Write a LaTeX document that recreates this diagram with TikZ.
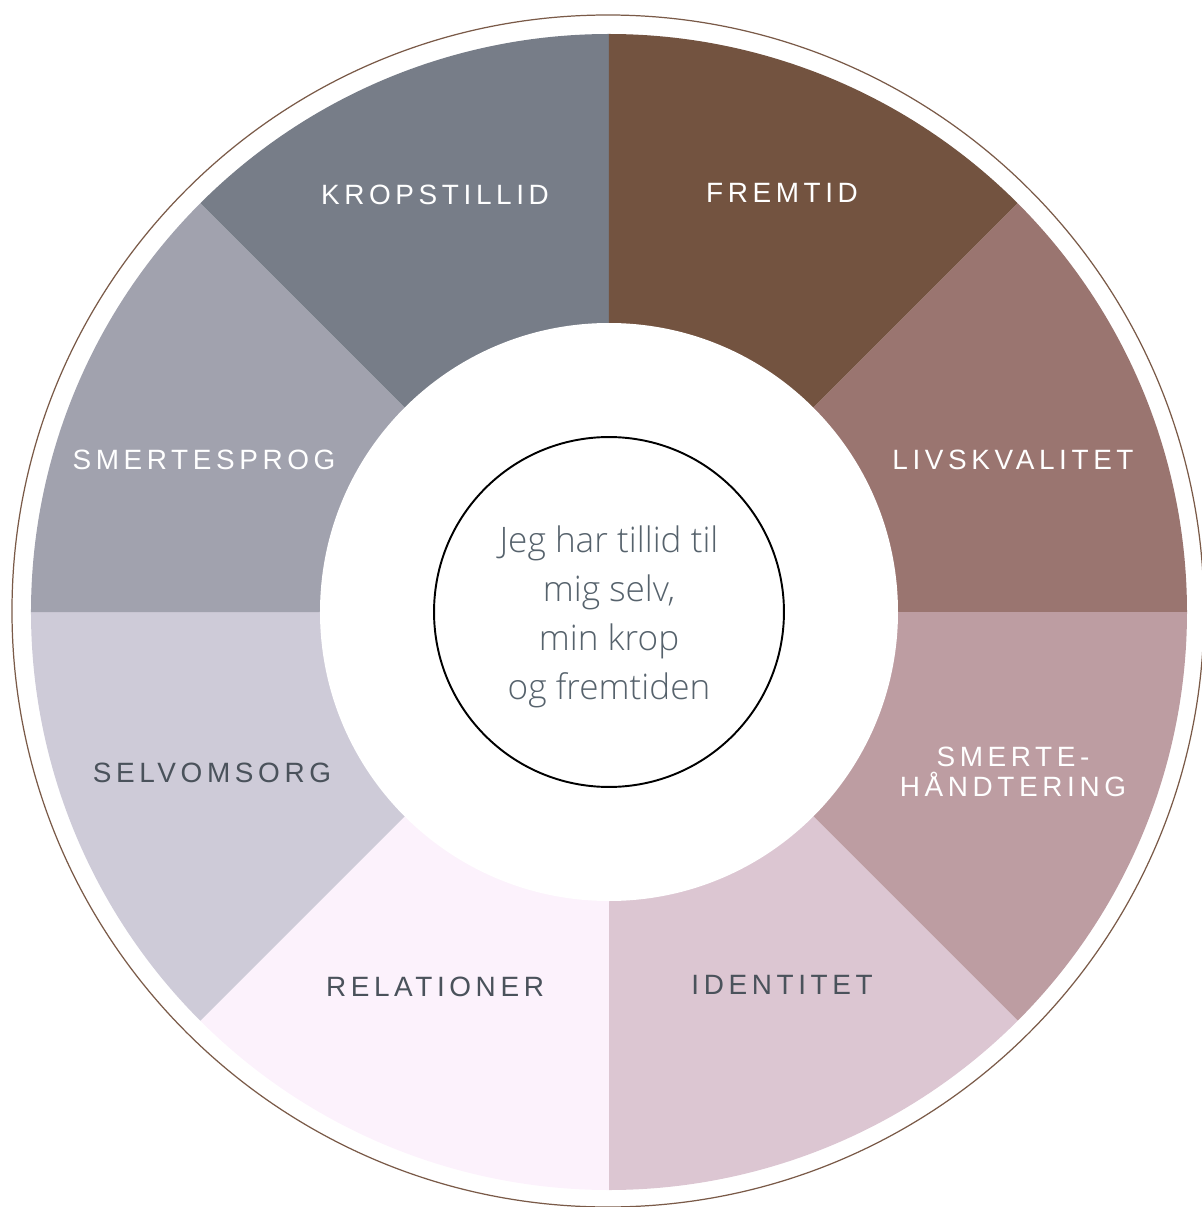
\documentclass[tikz,border=0pt]{standalone}
\usepackage{fontspec}
\usepackage{xcolor}
\newfontfamily\labelfont[LetterSpace=16.5]{Liberation Sans}
\newfontfamily\corefont{Open Sans Light}

\definecolor{kropc}{HTML}{777D88}
\definecolor{fremc}{HTML}{735340}
\definecolor{livc}{HTML}{9A7570}
\definecolor{smhc}{HTML}{BD9DA2}
\definecolor{idc}{HTML}{DCC6D2}
\definecolor{relc}{HTML}{FCF2FC}
\definecolor{selvc}{HTML}{CECBD8}
\definecolor{smsc}{HTML}{A1A2AE}
\definecolor{ringc}{HTML}{7A5A48}
\definecolor{labelgray}{HTML}{4A525B}
\definecolor{coregray}{HTML}{56626C}

\begin{document}
\begin{tikzpicture}[x=0.02cm,y=0.02cm,
    seg label/.style={font=\labelfont\fontsize{15.9pt}{17pt}\selectfont,align=center,inner sep=0pt},
    light label/.style={seg label,text=white},
    dark label/.style={seg label,text=labelgray},
    core/.style={circle,draw=black,line width=1.1pt,fill=white,minimum size=7cm},
    core text/.style={align=center,text=coregray,font=\corefont\fontsize{20pt}{27.9pt}\selectfont}]
    \useasboundingbox (-609,-595) rectangle (593,612);
    \coordinate (c) at (0,0);

    % outer ring line
    \draw[ringc,line width=0.7pt] (-1,1) circle (596);

    % eight sectors
    \foreach \a/\col in {90/kropc,45/fremc,0/livc,-45/smhc,-90/idc,-135/relc,180/selvc,135/smsc}
        \fill[\col] (c) -- (\a:578) arc[start angle=\a,end angle=\a+45,radius=578] -- cycle;

    % white hole
    \fill[white] (c) circle (289);

    \node[light label] (kropstillid) at (-174,417) {KROPSTILLID};
    \node[light label] (fremtid) at (173,419) {FREMTID};
    \node[light label] (livskvalitet) at (404,152) {LIVSKVALITET};
    \node[light label] (smertehaandtering) at (404,-160) {SMERTE-\\HÅNDTERING};
    \node[dark label] (identitet) at (173,-373) {IDENTITET};
    \node[dark label] (relationer) at (-174,-375) {RELATIONER};
    \node[dark label] (selvomsorg) at (-397,-161) {SELVOMSORG};
    \node[light label] (smertesprog) at (-405,152) {SMERTESPROG};

    \node[core] (core) at (c) {};
    \node[core text] (coretext) at ([yshift=-0.1cm]core.center) {Jeg har tillid til\\mig selv,\\min krop\\og fremtiden};
\end{tikzpicture}
\end{document}
